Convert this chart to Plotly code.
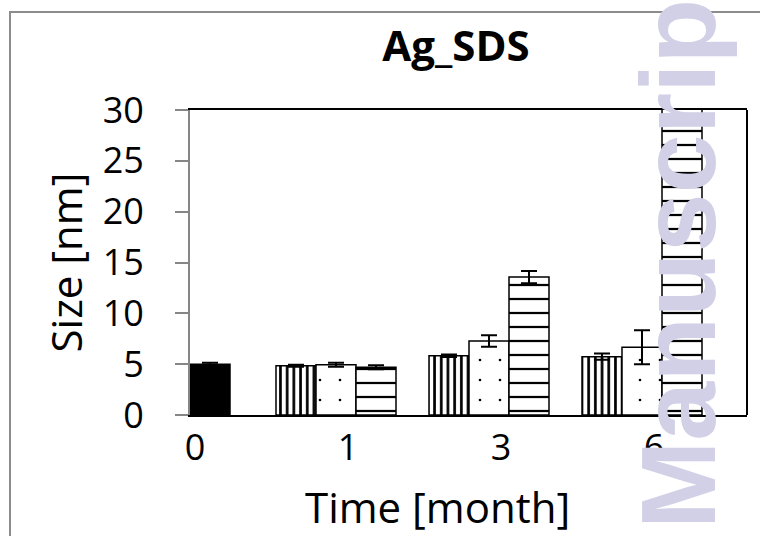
import plotly.graph_objects as go

# ---------------- data ----------------
categories = ["0", "1", "3", "6"]

initial_size = [5.0, None, None, None]
initial_err = [0.15, None, None, None]

vertical_size = [None, 4.85, 5.83, 5.74]
vertical_err = [None, 0.10, 0.12, 0.30]

dotted_size = [None, 4.95, 7.28, 6.66]
dotted_err = [None, 0.20, 0.57, 1.67]

horizontal_size = [None, 4.69, 13.57, 40.0]
horizontal_err = [None, 0.20, 0.60, 2.0]

y_ticks = [0, 5, 10, 15, 20, 25, 30]

# ---------------- layout geometry (styles) ----------------
W, H = 760, 536
L, R, T, B = 190, 13, 110, 121
plot_w = W - L - R          # 557
plot_h = H - T - B          # 305
cat_px = 153.0              # pixels per category
cat0_px = 191.0             # pixel position of first category
bar_px = 40.0
bw = bar_px / cat_px
grp_shift = -8.0 / cat_px
x_lo = (L - cat0_px) / cat_px
x_hi = (L + plot_w - cat0_px) / cat_px

FONT = "Open Sans"
GRAY = "#868686"
LAV = "#d1d0e6"


def px_x(p):
    return (p - L) / plot_w


def px_y(p):
    return (T + plot_h - p) / plot_h


def err(arr):
    return dict(type="data", array=arr, visible=True, color="black",
                thickness=2, width=8)


fig = go.Figure()

fig.add_trace(go.Bar(
    name="0 month", x=categories, y=initial_size,
    width=bw, offset=x_lo,
    marker=dict(color="black", line=dict(color="black", width=1.5)),
    error_y=err(initial_err),
))

fig.add_trace(go.Bar(
    name="Series A", x=categories, y=vertical_size,
    width=bw, offset=-1.5 * bw + grp_shift,
    marker=dict(color="white", line=dict(color="black", width=1.5),
                pattern=dict(shape="|", fgcolor="black", bgcolor="white",
                             size=6.7, solidity=0.4, fillmode="replace")),
    error_y=err(vertical_err),
))

fig.add_trace(go.Bar(
    name="Series B", x=categories, y=dotted_size,
    width=bw, offset=-0.5 * bw + grp_shift,
    marker=dict(color="white", line=dict(color="black", width=1.5),
                pattern=dict(shape=".", fgcolor="black", bgcolor="white",
                             size=20, solidity=0.014, fillmode="replace")),
    error_y=err(dotted_err),
))

fig.add_trace(go.Bar(
    name="Series C", x=categories, y=horizontal_size,
    width=bw, offset=0.5 * bw + grp_shift,
    marker=dict(color="white", line=dict(color="black", width=1.5),
                pattern=dict(shape="-", fgcolor="black", bgcolor="white",
                             size=14, solidity=0.16, fillmode="replace")),
    error_y=err(horizontal_err),
))

# outer frame of the figure (grey) and right border of plot area (black)
fig.add_shape(type="rect", xref="paper", yref="paper",
              x0=px_x(10), x1=1.2, y0=-0.6, y1=px_y(12),
              line=dict(color="#8c8c8c", width=2), layer="below")
fig.add_shape(type="line", xref="paper", yref="paper",
              x0=1, x1=1, y0=0, y1=1,
              line=dict(color="black", width=2), layer="above")

# x-axis title placed like the reference
fig.add_annotation(text="Time [month]", xref="paper", yref="paper",
                   x=px_x(437), y=px_y(506), xanchor="center", yanchor="middle",
                   showarrow=False,
                   font=dict(family=FONT, size=42, color="black"))

# watermark
fig.add_annotation(text="<b>Manuscript</b>", textangle=-90,
                   xref="paper", yref="paper",
                   x=px_x(678), y=px_y(247),
                   xanchor="center", yanchor="middle", showarrow=False,
                   font=dict(family="Liberation Sans", size=106, color=LAV))

fig.update_layout(
    width=W, height=H,
    margin=dict(l=L, r=R, t=T, b=B, pad=0, autoexpand=False),
    paper_bgcolor="white", plot_bgcolor="white",
    barmode="overlay", showlegend=False,
    title=dict(text="<b>Ag_SDS</b>", x=456 / W, xanchor="center",
               xref="container", yref="container",
               y=1 - 32 / H, yanchor="top",
               font=dict(family=FONT, size=42, color="black")),
    font=dict(family=FONT, color="black"),
)

fig.update_xaxes(
    type="category", categoryorder="array", categoryarray=categories,
    range=[x_lo, x_hi], showgrid=False, zeroline=False, automargin=False,
    showline=True, linecolor="black", linewidth=2, mirror=True,
    ticks="", ticklabelshift=4, ticklabelstandoff=0,
    tickfont=dict(family=FONT, size=36, color="black"),
)

fig.update_yaxes(
    range=[0, 30], tickmode="array", tickvals=y_ticks, automargin=False,
    showgrid=False, zeroline=False,
    showline=True, linecolor=GRAY, linewidth=2,
    ticks="outside", ticklen=13, tickcolor=GRAY, tickwidth=2,
    ticklabelstandoff=24,
    tickfont=dict(family=FONT, size=36, color="black"),
    title=dict(text="Size [nm]", font=dict(family=FONT, size=42, color="black"),
               standoff=7),
)

fig.write_html("out.html",
               config={"displayModeBar": False},
               post_script="document.body.style.margin='0';document.body.style.overflow='hidden';")
